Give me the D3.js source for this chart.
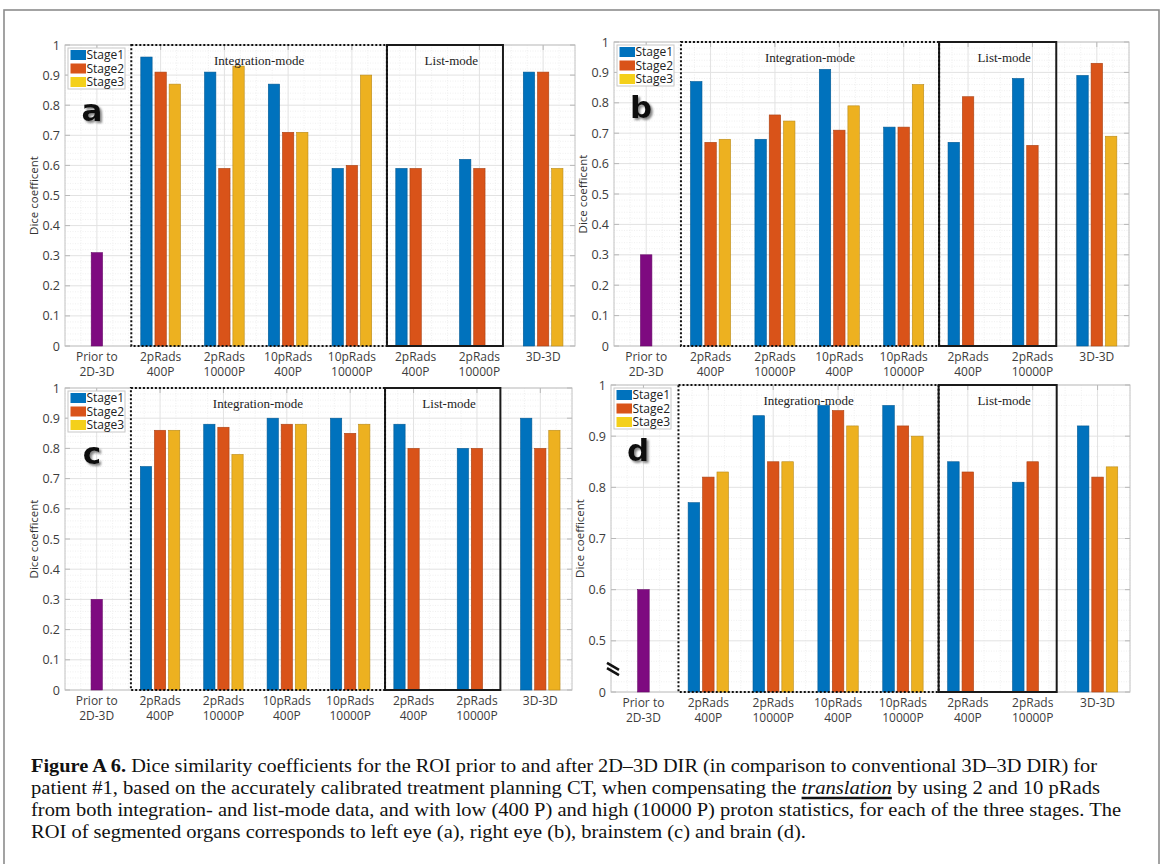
<!DOCTYPE html>
<html>
<head>
<meta charset="utf-8">
<script src="https://cdn.jsdelivr.net/npm/d3@7"></script>
<style>
  body { margin: 0; background: #fff; }
  svg { display: block; }
</style>
</head>
<body>
<svg id="fig" width="1168" height="864"></svg>
<script>
// ---- categories and legend ----
const categories = [
  ["Prior to", "2D-3D"], ["2pRads", "400P"], ["2pRads", "10000P"], ["10pRads", "400P"],
  ["10pRads", "10000P"], ["2pRads", "400P"], ["2pRads", "10000P"], ["3D-3D"]
];
const stageNames = ["Stage1", "Stage2", "Stage3"];
const stageColors = ["#0072BD", "#D95319", "#EDB120"];
const legendColors = ["#0072BD", "#D95319", "#F4D01A"];
const priorColor = "#7E0A80";
const modeLabels = ["Integration-mode", "List-mode"];

// ---- Dice coefficients (null = no bar) ----
// (a) left eye
const leftEyePrior = 0.31;
const leftEyeStage1 = [null, 0.96, 0.91, 0.87, 0.59, 0.59, 0.62, 0.91];
const leftEyeStage2 = [null, 0.91, 0.59, 0.71, 0.60, 0.59, 0.59, 0.91];
const leftEyeStage3 = [null, 0.87, 0.93, 0.71, 0.90, null, null, 0.59];
// (b) right eye
const rightEyePrior = 0.30;
const rightEyeStage1 = [null, 0.87, 0.68, 0.91, 0.72, 0.67, 0.88, 0.89];
const rightEyeStage2 = [null, 0.67, 0.76, 0.71, 0.72, 0.82, 0.66, 0.93];
const rightEyeStage3 = [null, 0.68, 0.74, 0.79, 0.86, null, null, 0.69];
// (c) brainstem
const brainstemPrior = 0.30;
const brainstemStage1 = [null, 0.74, 0.88, 0.90, 0.90, 0.88, 0.80, 0.90];
const brainstemStage2 = [null, 0.86, 0.87, 0.88, 0.85, 0.80, 0.80, 0.80];
const brainstemStage3 = [null, 0.86, 0.78, 0.88, 0.88, null, null, 0.86];
// (d) brain
const brainPrior = 0.60;
const brainStage1 = [null, 0.77, 0.94, 0.96, 0.96, 0.85, 0.81, 0.92];
const brainStage2 = [null, 0.82, 0.85, 0.95, 0.92, 0.83, 0.85, 0.82];
const brainStage3 = [null, 0.83, 0.85, 0.92, 0.90, null, null, 0.84];

const yTicksFull = [0, 0.1, 0.2, 0.3, 0.4, 0.5, 0.6, 0.7, 0.8, 0.9, 1];
const yTicksBroken = [0.4, 0.5, 0.6, 0.7, 0.8, 0.9, 1];

// ---- panel layout ----
const panels = [
  { letter: "a", prior: leftEyePrior, stages: [leftEyeStage1, leftEyeStage2, leftEyeStage3],
    left: 65, right: 575, top: 45, bottom: 346, yMin: 0, ticks: yTicksFull },
  { letter: "b", prior: rightEyePrior, stages: [rightEyeStage1, rightEyeStage2, rightEyeStage3],
    left: 614, right: 1129, top: 42, bottom: 346, yMin: 0, ticks: yTicksFull },
  { letter: "c", prior: brainstemPrior, stages: [brainstemStage1, brainstemStage2, brainstemStage3],
    left: 65, right: 572, top: 388, bottom: 690, yMin: 0, ticks: yTicksFull },
  { letter: "d", prior: brainPrior, stages: [brainStage1, brainStage2, brainStage3],
    left: 611, right: 1130, top: 385, bottom: 692, yMin: 0.4, ticks: yTicksBroken, broken: true }
];
// mode boxes, in category-band units from the left edge of the axes
const integrationSpan = [1.04, 5.05];
const listSpan = [5.05, 6.87];

const svg = d3.select("#fig");
const TICK_FONT = "'Open Sans', 'DejaVu Sans', sans-serif";

// outer frame
svg.append("rect").attr("x", 4).attr("y", 10).attr("width", 1155).attr("height", 870)
  .attr("fill", "none").attr("stroke", "#8c8c8c").attr("stroke-width", 1.6);

// shadow for panel letters
const defs = svg.append("defs");
defs.append("filter").attr("id", "letterShadow").attr("x", "-30%").attr("y", "-30%")
  .attr("width", "160%").attr("height", "160%")
  .append("feDropShadow").attr("dx", 2).attr("dy", 2).attr("stdDeviation", 1.2)
  .attr("flood-color", "#777").attr("flood-opacity", 0.9);

function fmtTick(v, yMin) {
  if (v === yMin) return "0";
  return d3.format("~g")(+v.toFixed(2));
}

function drawPanel(p) {
  const g = svg.append("g");
  const x = d3.scaleBand().domain(d3.range(categories.length)).range([p.left, p.right]);
  const step = x.step();
  const y = d3.scaleLinear().domain([p.yMin, 1]).range([p.bottom, p.top]);
  const slot = d3.scaleBand().domain([0, 1, 2]).range([-step / 3, step / 3])
    .paddingInner(0.2).paddingOuter(0.1);
  const ux = u => p.left + u * step;

  // minor grid
  const minorY = d3.range(Math.round(p.yMin * 50), 51).map(k => k / 50)
    .filter(v => Math.abs(v * 10 - Math.round(v * 10)) > 1e-6);
  g.append("g").selectAll("line").data(minorY).join("line")
    .attr("x1", p.left).attr("x2", p.right)
    .attr("y1", d => y(d)).attr("y2", d => y(d))
    .attr("stroke", "#ececec").attr("stroke-width", 0.8).attr("stroke-dasharray", "1,1.5");
  const minorX = d3.range(0, categories.length * 4 + 1).map(k => k / 4)
    .filter(u => Math.abs(u - Math.floor(u) - 0.5) > 1e-6);
  g.append("g").selectAll("line").data(minorX).join("line")
    .attr("x1", d => ux(d)).attr("x2", d => ux(d))
    .attr("y1", p.top).attr("y2", p.bottom)
    .attr("stroke", "#ececec").attr("stroke-width", 0.8).attr("stroke-dasharray", "1,1.5");

  // major grid
  g.append("g").selectAll("line").data(p.ticks).join("line")
    .attr("x1", p.left).attr("x2", p.right)
    .attr("y1", d => y(d)).attr("y2", d => y(d))
    .attr("stroke", "#e2e2e2").attr("stroke-width", 1);
  g.append("g").selectAll("line").data(d3.range(categories.length)).join("line")
    .attr("x1", d => x(d) + step / 2).attr("x2", d => x(d) + step / 2)
    .attr("y1", p.top).attr("y2", p.bottom)
    .attr("stroke", "#e2e2e2").attr("stroke-width", 1);

  // axes box and inward ticks
  g.append("rect").attr("x", p.left).attr("y", p.top)
    .attr("width", p.right - p.left).attr("height", p.bottom - p.top)
    .attr("fill", "none").attr("stroke", "#c4c4c4").attr("stroke-width", 1);
  const tk = g.append("g").attr("stroke", "#b8b8b8").attr("stroke-width", 1);
  p.ticks.forEach(v => {
    tk.append("line").attr("x1", p.left).attr("x2", p.left + 5).attr("y1", y(v)).attr("y2", y(v));
    tk.append("line").attr("x1", p.right).attr("x2", p.right - 5).attr("y1", y(v)).attr("y2", y(v));
  });
  d3.range(categories.length).forEach(i => {
    const cx = x(i) + step / 2;
    tk.append("line").attr("x1", cx).attr("x2", cx).attr("y1", p.bottom).attr("y2", p.bottom - 5);
    tk.append("line").attr("x1", cx).attr("x2", cx).attr("y1", p.top).attr("y2", p.top + 5);
  });

  // y axis labels
  const yAxis = d3.axisLeft(y).tickValues(p.ticks).tickSize(0).tickPadding(5)
    .tickFormat(d => fmtTick(d, p.yMin));
  const ya = g.append("g").attr("transform", `translate(${p.left},0)`).call(yAxis);
  ya.select(".domain").remove();
  ya.selectAll("text").attr("font-family", TICK_FONT).attr("font-size", 12.5).attr("fill", "#3c3c3c");

  // x axis labels (two lines)
  const xl = g.append("g").selectAll("text").data(categories).join("text")
    .attr("x", (d, i) => x(i) + step / 2).attr("y", p.bottom + 15)
    .attr("text-anchor", "middle").attr("font-family", TICK_FONT)
    .attr("font-size", 12).attr("fill", "#3c3c3c");
  xl.selectAll("tspan").data(d => d).join("tspan")
    .attr("x", function () { return this.parentNode.getAttribute("x"); })
    .attr("dy", (d, i) => i === 0 ? 0 : 15)
    .text(d => d);

  // y axis title
  g.append("text")
    .attr("transform", `translate(${p.left - 27},${(p.top + p.bottom) / 2}) rotate(-90)`)
    .attr("text-anchor", "middle").attr("font-family", TICK_FONT)
    .attr("font-size", 11.5).attr("fill", "#333").text("Dice coefficent");

  // bars
  const base = y(p.yMin);
  g.append("rect")
    .attr("x", x(0) + step / 2 + slot(1)).attr("width", slot.bandwidth())
    .attr("y", y(p.prior)).attr("height", base - y(p.prior))
    .attr("fill", priorColor).attr("stroke", d3.color(priorColor).darker(0.6)).attr("stroke-width", 0.6);
  p.stages.forEach((vals, s) => {
    const items = vals.map((v, i) => ({ v, i })).filter(d => d.v !== null);
    g.append("g").selectAll("rect").data(items).join("rect")
      .attr("x", d => x(d.i) + step / 2 + slot(s)).attr("width", slot.bandwidth())
      .attr("y", d => y(d.v)).attr("height", d => base - y(d.v))
      .attr("fill", stageColors[s])
      .attr("stroke", d3.color(stageColors[s]).darker(0.7)).attr("stroke-width", 0.6);
  });

  // mode boxes
  g.append("rect").attr("x", ux(listSpan[0])).attr("y", p.top)
    .attr("width", ux(listSpan[1]) - ux(listSpan[0])).attr("height", p.bottom - p.top)
    .attr("fill", "none").attr("stroke", "#1a1a1a").attr("stroke-width", 2);
  g.append("rect").attr("x", ux(integrationSpan[0])).attr("y", p.top)
    .attr("width", ux(integrationSpan[1]) - ux(integrationSpan[0])).attr("height", p.bottom - p.top)
    .attr("fill", "none").attr("stroke", "#111").attr("stroke-width", 2)
    .attr("stroke-dasharray", "2,2");
  g.append("text").attr("x", ux((integrationSpan[0] + integrationSpan[1]) / 2)).attr("y", p.top + 20)
    .attr("text-anchor", "middle").attr("font-family", "'Liberation Serif', 'Times New Roman', serif")
    .attr("font-size", 13).attr("fill", "#222").text(modeLabels[0]);
  g.append("text").attr("x", ux(6.06)).attr("y", p.top + 20)
    .attr("text-anchor", "middle").attr("font-family", "'Liberation Serif', 'Times New Roman', serif")
    .attr("font-size", 13).attr("fill", "#222").text(modeLabels[1]);

  // legend
  const lg = g.append("g").attr("transform", `translate(${p.left + 3},${p.top + 3})`);
  lg.append("rect").attr("width", 57).attr("height", 41)
    .attr("fill", "#fff").attr("stroke", "#c8c8c8").attr("stroke-width", 1);
  stageNames.forEach((name, s) => {
    const cy = 7 + s * 13.5;
    lg.append("rect").attr("x", 2.5).attr("y", cy - 5).attr("width", 15.5).attr("height", 10)
      .attr("fill", legendColors[s]);
    lg.append("text").attr("x", 18.5).attr("y", cy + 4.3)
      .attr("font-family", TICK_FONT).attr("font-size", 12).attr("fill", "#222").text(name);
  });

  // panel letter
  g.append("text").attr("x", p.left + 27).attr("y", p.top + 76)
    .attr("text-anchor", "middle").attr("font-family", "'DejaVu Sans', sans-serif")
    .attr("font-weight", "bold").attr("font-size", 31).attr("fill", "#111")
    .attr("filter", "url(#letterShadow)").text(p.letter);

  // axis break marker
  if (p.broken) {
    const by = y(0.445), bx = p.left + 2;
    [-2.6, 2.6].forEach(off => {
      g.append("line")
        .attr("x1", bx - 6).attr("y1", by - 3.5 + off)
        .attr("x2", bx + 6).attr("y2", by + 3.5 + off)
        .attr("stroke", "#111").attr("stroke-width", 2.6);
    });
  }
}

panels.forEach(drawPanel);

// ---- caption ----
const captionLines = [
  { y: 772, len: 1066, parts: [
    { t: "Figure A 6.", w: "bold" },
    { t: " Dice similarity coefficients for the ROI prior to and after 2D\u20133D DIR (in comparison to conventional 3D\u20133D DIR) for" }
  ] },
  { y: 794, len: 1069, parts: [
    { t: "patient #1, based on the accurately calibrated treatment planning CT, when compensating the " },
    { t: "translation", i: true, u: true },
    { t: " by using 2 and 10 pRads" }
  ] },
  { y: 816, len: 1090, parts: [
    { t: "from both integration- and list-mode data, and with low (400 P) and high (10000 P) proton statistics, for each of the three stages. The" }
  ] },
  { y: 838, len: 775, parts: [
    { t: "ROI of segmented organs corresponds to left eye (a), right eye (b), brainstem (c) and brain (d)." }
  ] }
];
const cap = svg.append("g").attr("font-family", "'Liberation Serif', 'Times New Roman', serif")
  .attr("font-size", 19).attr("fill", "#111");
captionLines.forEach(line => {
  const t = cap.append("text").attr("x", 31).attr("y", line.y)
    .attr("textLength", line.len).attr("lengthAdjust", "spacingAndGlyphs");
  let idx = 0;
  line.parts.forEach(pt => {
    const sp = t.append("tspan").text(pt.t);
    if (pt.w) sp.attr("font-weight", pt.w);
    if (pt.i) sp.attr("font-style", "italic");
    if (pt.u) {
      const node = t.node();
      const a = idx, b = idx + pt.t.length - 1;
      requestAnimationFrame(() => {
        const s0 = node.getStartPositionOfChar(a).x;
        const s1 = node.getEndPositionOfChar(b).x;
        cap.append("line").attr("x1", s0).attr("x2", s1)
          .attr("y1", line.y + 4).attr("y2", line.y + 4)
          .attr("stroke", "#111").attr("stroke-width", 2.4);
      });
    }
    idx += pt.t.length;
  });
});
</script>
</body>
</html>
